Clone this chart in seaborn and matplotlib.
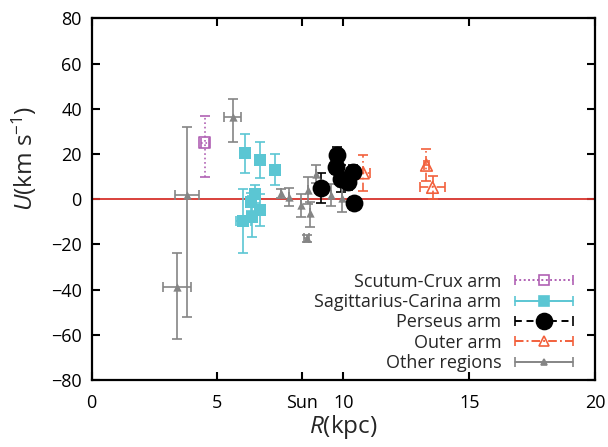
import numpy as np
import pandas as pd
import matplotlib
matplotlib.use("Agg")
import matplotlib.pyplot as plt
import seaborn as sns
from matplotlib.legend_handler import HandlerErrorbar

# ---------------- data ----------------
scutum_R = [4.50]
scutum_U = [25.0]
scutum_Ulo = [15.0]
scutum_Uhi = [12.0]
scutum_Rerr = [0.15]

sagit_R = [6.09, 6.70, 7.29, 6.49, 6.32, 6.69, 6.37, 6.02]
sagit_U = [20.2, 17.2, 13.1, 2.3, -1.2, -4.9, -7.8, -9.7]
sagit_Uerr = [8.5, 8.0, 7.0, 4.0, 4.0, 7.0, 9.0, 14.0]
sagit_Rerr = [0.0, 0.0, 0.0, 0.0, 0.0, 0.0, 0.0, 0.3]

perseus_R = [9.75, 9.70, 9.13, 9.89, 10.19, 10.37, 10.42]
perseus_U = [19.4, 14.3, 5.0, 9.1, 7.7, 12.0, -1.9]
perseus_Uerr = [3.5, 3.0, 6.5, 6.0, 3.5, 3.0, 3.0]
perseus_Rerr = [0.1, 0.1, 0.2, 0.1, 0.1, 0.1, 0.1]

outer_R = [10.79, 13.30, 13.54]
outer_U = [11.6, 15.0, 5.2]
outer_Uerr = [8.0, 7.0, 5.0]
outer_Rerr = [0.27, 0.1, 0.5]

other_R = [3.78, 3.38, 5.60, 7.52, 7.85, 8.30, 8.60, 8.90, 8.67, 8.54, 9.49, 9.94]
other_U = [2.0, -39.0, 36.4, 2.5, 1.0, -2.7, 4.0, 11.3, -6.3, -17.4, 1.8, 0.3]
other_Ulo = [54.0, 23.0, 11.0, 2.0, 4.0, 5.0, 6.0, 4.0, 6.0, 1.5, 5.0, 6.0]
other_Uhi = [30.0, 15.0, 8.0, 2.0, 4.0, 5.0, 6.0, 4.0, 5.0, 1.5, 5.0, 5.0]
other_Rerr = [0.47, 0.56, 0.33, 0.0, 0.0, 0.0, 0.0, 0.0, 0.0, 0.1, 0.0, 0.0]

R_sun = 8.34
xtick_pos = [0, 5, R_sun, 10, 15, 20]
xtick_lab = ["0", "5", "Sun", "10", "15", "20"]
ytick_pos = [-80, -60, -40, -20, 0, 20, 40, 60, 80]

labels = ["Scutum-Crux arm", "Sagittarius-Carina arm", "Perseus arm",
          "Outer arm", "Other regions"]

# ---------------- style ----------------
sns.set_theme(style="ticks")
FONT = "Open Sans"
plt.rcParams["font.family"] = [FONT, "DejaVu Sans"]
plt.rcParams["mathtext.fontset"] = "custom"
plt.rcParams["mathtext.rm"] = FONT
plt.rcParams["mathtext.it"] = FONT + ":italic"

C_PUR = "#b061b4"
C_CYAN = "#5bc6d3"
C_BLK = "#000000"
C_ORG = "#f2603c"
C_GRY = "#858585"
C_RED = "#d7332c"

fig = plt.figure(figsize=(6.08, 4.47), dpi=100)
ax = fig.add_axes([0.1505, 0.150, 0.8285, 0.809])

ax.axhline(0, color=C_RED, lw=1.3, zorder=1)

EB = dict(fmt="none", elinewidth=1.2, capsize=3.6, capthick=1.2, zorder=2)

def eb(x, y, yerr, xerr, color, ls):
    c = ax.errorbar(x, y, yerr=yerr, xerr=xerr, ecolor=color, **EB)
    for lc in c[2]:
        lc.set_linestyle(ls)
    return c

eb(scutum_R, scutum_U, [scutum_Ulo, scutum_Uhi], scutum_Rerr, C_PUR, ":")
eb(sagit_R, sagit_U, sagit_Uerr, sagit_Rerr, C_CYAN, "-")
eb(perseus_R, perseus_U, perseus_Uerr, perseus_Rerr, C_BLK, (0, (4, 3)))
eb(outer_R, outer_U, outer_Uerr, outer_Rerr, C_ORG, (0, (5, 2, 1, 2)))
eb(other_R, other_U, [other_Ulo, other_Uhi], other_Rerr, C_GRY, "-")

df_sc = pd.DataFrame({"R": scutum_R, "U": scutum_U})
df_sa = pd.DataFrame({"R": sagit_R, "U": sagit_U})
df_pe = pd.DataFrame({"R": perseus_R, "U": perseus_U})
df_ou = pd.DataFrame({"R": outer_R, "U": outer_U})
df_ot = pd.DataFrame({"R": other_R, "U": other_U})

sns.scatterplot(data=df_sc, x="R", y="U", ax=ax, marker="s", s=60,
                facecolor="none", edgecolor=C_PUR, linewidth=1.2, legend=False, zorder=3)
sns.scatterplot(data=df_sa, x="R", y="U", ax=ax, marker="s", s=75,
                color=C_CYAN, edgecolor=C_CYAN, linewidth=0, legend=False, zorder=3)
sns.scatterplot(data=df_pe, x="R", y="U", ax=ax, marker="o", s=165,
                color=C_BLK, edgecolor=C_BLK, linewidth=0, legend=False, zorder=4)
sns.scatterplot(data=df_ou, x="R", y="U", ax=ax, marker="^", s=70,
                facecolor="none", edgecolor=C_ORG, linewidth=1.2, legend=False, zorder=3)
sns.scatterplot(data=df_ot, x="R", y="U", ax=ax, marker="^", s=36,
                color=C_GRY, edgecolor=C_GRY, linewidth=0, legend=False, zorder=3)

# legend handles (dummy errorbar containers, horizontal bars with caps)
def dummy(color, ls, marker, ms, mfc):
    c = ax.errorbar([np.nan], [np.nan], xerr=[1.0], fmt=marker, color=color,
                    linestyle=ls, lw=1.2, ms=ms, mfc=mfc, mec=color, mew=1.2,
                    elinewidth=1.2, capsize=3.6, capthick=1.2)
    for lc in c[2]:
        lc.set_linestyle(ls)
    return c

h = [dummy(C_PUR, ":", "s", 7.0, "none"),
     dummy(C_CYAN, "-", "s", 7.5, C_CYAN),
     dummy(C_BLK, (0, (4, 3)), "o", 11.5, C_BLK),
     dummy(C_ORG, (0, (5, 2, 1, 2)), "^", 7.0, "none"),
     dummy(C_GRY, "-", "^", 5.0, C_GRY)]

leg = ax.legend(h, labels, loc="lower right", bbox_to_anchor=(0.955, 0.022),
                frameon=False, markerfirst=False, fontsize=13,
                handlelength=3.2, handletextpad=0.75, labelspacing=0.13,
                borderpad=0, borderaxespad=0,
                handler_map={type(h[0]): HandlerErrorbar(xerr_size=1.6)})
for t in leg.get_texts():
    t.set_ha("right")

ax.set_xlim(0, 20)
ax.set_ylim(-80, 80)
ax.set_xticks(xtick_pos)
ax.set_xticklabels(xtick_lab)
ax.set_yticks(ytick_pos)
ax.tick_params(direction="in", length=6, width=1.5, top=True, right=True,
               labelsize=13, pad=7, colors="black")
ax.tick_params(axis="x", pad=10)
for sp in ax.spines.values():
    sp.set_visible(True)
    sp.set_linewidth(1.6)
    sp.set_color("black")

ax.set_xlabel(r"$\mathit{R}$(kpc)", fontsize=17.5, labelpad=1)
ax.set_ylabel(r"$\mathit{U}$(km s$^{-1}$)", fontsize=17.5)
ax.yaxis.set_label_coords(-0.105, 0.612)

fig.savefig("out.png", dpi=100)
